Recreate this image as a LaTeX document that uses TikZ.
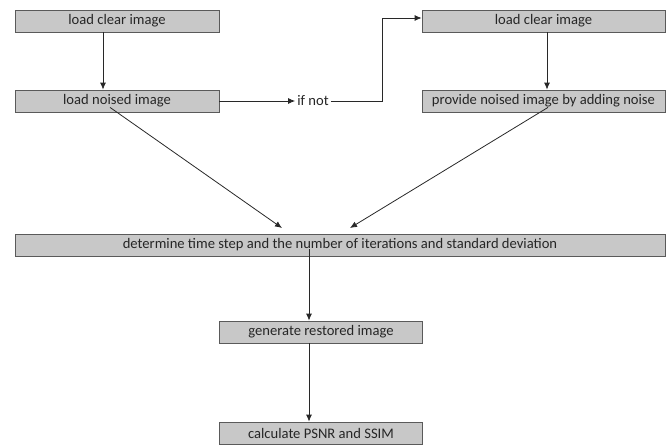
\documentclass[tikz,border=0pt]{standalone}
\usepackage{fontspec}
\setmainfont{Carlito}
\usetikzlibrary{arrows.meta}
\definecolor{boxfill}{RGB}{200,200,200}
\definecolor{boxline}{RGB}{90,90,90}
\definecolor{linecol}{RGB}{40,40,40}
\begin{document}
\begin{tikzpicture}[x=1pt,y=-1pt,
  box/.style={draw=boxline,fill=boxfill,line width=0.8pt,inner sep=0pt,font=\fontsize{14.6}{16}\selectfont,text=black!85},
  conn/.style={draw=linecol,line width=0.8pt,-{Latex[length=7pt,width=6pt]}}]
\useasboundingbox (0,0) rectangle (671,444);
\node[box,minimum width=204pt,minimum height=22pt] (a) at (117,21) {load clear image};
\node[box,minimum width=204pt,minimum height=22pt] (b) at (117,101) {load noised image};
\node[font=\fontsize{14.6}{16}\selectfont,text=black!85,inner sep=2pt] (ifnot) at (313,101) {if not};
\node[box,minimum width=243pt,minimum height=22pt] (c) at (543.5,21) {load clear image};
\node[box,minimum width=243pt,minimum height=22pt] (d) at (543.5,101) {provide noised image by adding noise};
\node[box,minimum width=650pt,minimum height=22pt] (e) at (340,245) {determine time step and the number of iterations and standard deviation};
\node[box,minimum width=203pt,minimum height=22pt] (f) at (321,332) {generate restored image};
\node[box,minimum width=203pt,minimum height=22pt] (g) at (321,433) {calculate PSNR and SSIM};
\coordinate (t1) at (282,228);
\coordinate (t2) at (350,228);
\draw[conn] (a.south -| 103,0) -- (b.north -| 103,0);
\draw[conn] (b.east) -- (ifnot.west);
\draw[conn] (ifnot.east) -- (382,101) -- (382,18) -- (c.west |- 0,18);
\draw[conn] (c.south -| 547,0) -- (d.north -| 547,0);
\draw[conn] ([yshift=5pt]b.south -| 110,0) -- (t1);
\draw[conn] ([yshift=5pt]d.south -| 548,0) -- (t2);
\draw[conn] ([yshift=7pt]e.south -| 309,0) -- (f.north -| 309,0);
\draw[conn] (f.south -| 309,0) -- (g.north -| 309,0);
\end{tikzpicture}
\end{document}
